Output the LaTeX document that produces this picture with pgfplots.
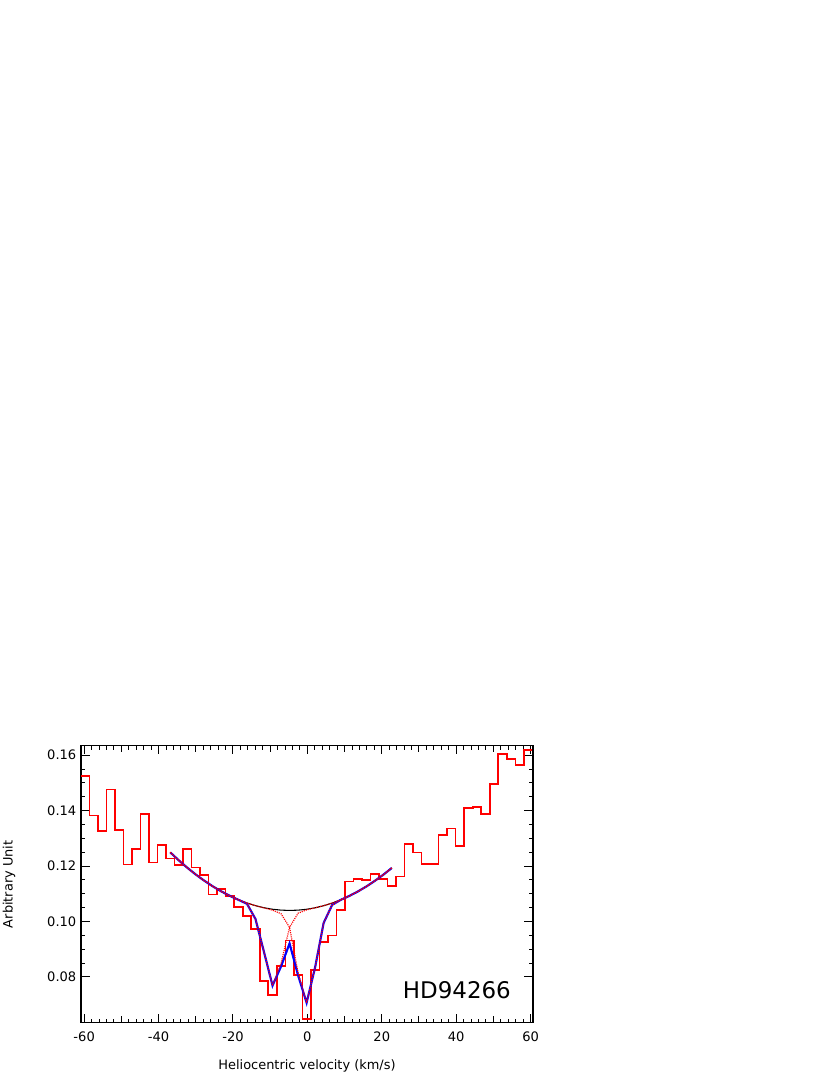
\documentclass[border=0pt]{standalone}
\usepackage{fontspec}
\setmainfont{DejaVu Sans}
\usepackage{pgfplots}
\pgfplotsset{compat=1.18}
\begin{document}
\begin{tikzpicture}
\path[use as bounding box] (0,0) rectangle (622.5pt,806.25pt);
\begin{axis}[
  at={(60.75pt,39.2pt)}, anchor=south west,
  scale only axis, width=339pt, height=207.75pt,
  xmin=-60.85, xmax=60.65, ymin=0.0635, ymax=0.1634,
  axis line style={line width=1.1pt},
  tick align=inside,
  tick style={black, line width=0.75pt},
  major tick length=6.5pt, minor tick length=3.1pt,
  xtick={-60,-40,...,60}, minor x tick num=9,
  extra x ticks={-50,-30,-10,10,30,50}, extra x tick labels={},
  extra x tick style={major tick length=4.8pt},
  ytick={0.08,0.10,0.12,0.14,0.16}, minor y tick num=3,
  scaled y ticks=false,
  yticklabel style={/pgf/number format/.cd, fixed, fixed zerofill, precision=2},
  /pgf/number format/assume math mode=true,
  ticklabel style={font=\fontsize{9.8}{11}\selectfont},
  xticklabel style={yshift=-3pt},
  label style={font=\fontsize{9.7}{11}\selectfont},
  xlabel={Heliocentric velocity (km/s)},
  ylabel={Arbitrary Unit},
  xlabel style={at={(axis description cs:0.5,-0.156)}, anchor=center},
  ylabel style={at={(axis description cs:-0.159,0.5)}, anchor=center},
]
% observed spectrum (steps)
\addplot[const plot mark left, red, line width=1.2pt, line join=miter] coordinates {
(-60.89,0.1525) (-58.60,0.1383) (-56.31,0.1326) (-54.02,0.1476) (-51.73,0.1329)
(-49.44,0.1205) (-47.15,0.1262) (-44.86,0.1387) (-42.57,0.1213) (-40.28,0.1277)
(-37.99,0.1228) (-35.70,0.1204) (-33.41,0.1262) (-31.12,0.1195) (-28.83,0.1168)
(-26.54,0.1098) (-24.25,0.1118) (-21.96,0.1093) (-19.67,0.1052) (-17.38,0.1021)
(-15.09,0.0972) (-12.80,0.0786) (-10.51,0.0735) (-8.22,0.0840) (-5.93,0.0931)
(-3.64,0.0808) (-1.35,0.0648) (0.94,0.0825) (3.23,0.0927) (5.52,0.0949)
(7.81,0.1041) (10.10,0.1145) (12.39,0.1153) (14.68,0.1150) (16.97,0.1171)
(19.26,0.1154) (21.55,0.1128) (23.84,0.1163) (26.13,0.1280) (28.42,0.1249)
(30.71,0.1208) (33.00,0.1208) (35.29,0.1311) (37.58,0.1336) (39.87,0.1272)
(42.16,0.1410) (44.45,0.1414) (46.74,0.1387) (49.03,0.1497) (51.32,0.1604)
(53.61,0.1586) (55.90,0.1564) (58.19,0.1618) (60.48,0.1618)
};
% continuum
\addplot[black, line width=0.8pt] coordinates {
(-36.845,0.12493) (-34.555,0.12205) (-32.265,0.11938) (-29.975,0.11693)
(-27.685,0.11469) (-25.395,0.11266) (-23.105,0.11084) (-20.815,0.10924)
(-18.525,0.10785) (-16.235,0.10668) (-13.945,0.10572) (-11.655,0.10497)
(-9.365,0.10443) (-7.075,0.10411) (-4.785,0.10400) (-2.495,0.10410)
(-0.205,0.10442) (2.085,0.10495) (4.375,0.10570) (6.665,0.10665)
(8.955,0.10782) (11.245,0.10921) (13.535,0.11080) (15.825,0.11261)
(18.115,0.11464) (20.405,0.11687) (22.695,0.11932)
};
% total fit
\addplot[blue, line width=1.6pt] coordinates {
(-36.845,0.12493) (-34.555,0.12205) (-32.265,0.11938) (-29.975,0.11693)
(-27.685,0.11469) (-25.395,0.11266) (-23.105,0.11084) (-20.815,0.10924)
(-18.525,0.10782) (-16.235,0.1064) (-13.945,0.1009) (-11.655,0.0890)
(-9.365,0.0769) (-7.075,0.0838) (-4.785,0.0921) (-2.495,0.0806)
(-0.205,0.0707) (2.085,0.0835) (4.375,0.0995) (6.665,0.1060)
(8.955,0.1078) (11.245,0.10921) (13.535,0.11080) (15.825,0.11261)
(18.115,0.11464) (20.405,0.11687) (22.695,0.11932)
};
% component 1
\addplot[red, line width=0.9pt, dash pattern=on 0.8pt off 0.8pt] coordinates {
(-36.845,0.12493) (-34.555,0.12205) (-32.265,0.11938) (-29.975,0.11693)
(-27.685,0.11469) (-25.395,0.11266) (-23.105,0.11084) (-20.815,0.10924)
(-18.525,0.10782) (-16.235,0.1064) (-13.945,0.1009) (-11.655,0.0890)
(-9.365,0.0769) (-7.075,0.0849) (-4.785,0.0979) (-2.495,0.1030)
(-0.205,0.1042) (2.085,0.10495) (4.375,0.10570) (6.665,0.10665)
(8.955,0.10782) (11.245,0.10921) (13.535,0.11080) (15.825,0.11261)
(18.115,0.11464) (20.405,0.11687) (22.695,0.11932)
};
% component 2
\addplot[red, line width=0.9pt, dash pattern=on 0.8pt off 0.8pt] coordinates {
(-36.845,0.12493) (-34.555,0.12205) (-32.265,0.11938) (-29.975,0.11693)
(-27.685,0.11469) (-25.395,0.11266) (-23.105,0.11084) (-20.815,0.10924)
(-18.525,0.10785) (-16.235,0.10668) (-13.945,0.10572) (-11.655,0.1049)
(-9.365,0.1041) (-7.075,0.1028) (-4.785,0.0979) (-2.495,0.0815)
(-0.205,0.0707) (2.085,0.0835) (4.375,0.0995) (6.665,0.1060)
(8.955,0.1078) (11.245,0.10921) (13.535,0.11080) (15.825,0.11261)
(18.115,0.11464) (20.405,0.11687) (22.695,0.11932)
};
\node[anchor=center, inner sep=0pt, font=\fontsize{17.2}{20}\selectfont] at (axis cs:40.2,0.0753) {HD94266};
\end{axis}
\end{tikzpicture}
\end{document}
